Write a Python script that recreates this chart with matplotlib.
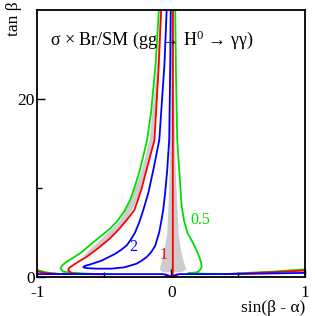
import matplotlib
matplotlib.use('Agg')
import matplotlib.pyplot as plt

plt.rcParams['font.family'] = ['Liberation Serif', 'DejaVu Serif']
plt.rcParams['mathtext.fontset'] = 'custom'
plt.rcParams['mathtext.rm'] = 'Liberation Serif'
plt.rcParams['mathtext.it'] = 'Liberation Serif:italic'

GREEN = '#00dd00'
RED = '#ff0000'
BLUE = '#0000ff'
GRAY = '#cccccc'

# ---- contour sigma x Br / SM = 0.5 (green) ----
g_left_x = [-0.092, -0.116, -0.150, -0.180, -0.234, -0.275, -0.307, -0.346, -0.396, -0.460, -0.532, -0.610, -0.681, -0.740, -0.781, -0.815, -0.825, -0.806, -0.731, -0.582, -0.45]
g_left_y = [30.0, 24.0, 18.5, 15.4, 12.0, 10.0, 8.65, 7.5, 6.4, 5.4, 4.53, 3.55, 2.66, 2.10, 1.72, 1.30, 0.97, 0.60, 0.48, 0.36, 0.33]
g_right_x = [0.030, 0.035, 0.045, 0.060, 0.078, 0.095, 0.120, 0.164, 0.195, 0.214, 0.224, 0.227, 0.215, 0.200, 0.170, 0.127, 0.25, 0.43, 0.60, 0.76, 1.0]
g_right_y = [30.0, 23.5, 15.4, 12.0, 8.0, 6.4, 5.0, 3.8, 2.8, 2.1, 1.6, 1.16, 0.80, 0.60, 0.50, 0.46, 0.38, 0.36, 0.50, 0.62, 0.88]
g_edge_x = [-1.0, -0.95, -0.90, -0.85]
g_edge_y = [0.80, 0.60, 0.45, 0.38]

# ---- contour = 1 (red) ----
r_left_x = [-0.075, -0.094, -0.125, -0.185, -0.220, -0.253, -0.276, -0.333, -0.395, -0.457, -0.545, -0.631, -0.690, -0.731, -0.760, -0.769, -0.743, -0.65, -0.50]
r_left_y = [30.0, 23.5, 15.4, 12.0, 10.0, 8.46, 7.5, 6.4, 5.3, 4.35, 3.25, 2.28, 1.75, 1.35, 1.05, 0.79, 0.42, 0.34, 0.32]
r_vert_x = [0.013, 0.012, 0.012]
r_vert_y = [30.0, 10.0, 0.30]
r_edge_x = [-1.0, -0.93, -0.85, -0.75]
r_edge_y = [0.64, 0.45, 0.37, 0.34]
r_right_x = [0.40, 0.55, 0.75, 1.0]
r_right_y = [0.34, 0.42, 0.55, 0.74]
r_dip_x = [-0.04, 0.0, 0.04]
r_dip_y = [0.30, 0.05, 0.30]

# ---- contour = 2 (blue) ----
b_loop_x = [-0.004, -0.007, -0.015, -0.030, -0.045, -0.060, -0.075, -0.090, -0.120, -0.150, -0.180, -0.220, -0.260, -0.350, -0.450, -0.550,
            -0.620, -0.650, -0.656, -0.640, -0.600, -0.520, -0.420, -0.370, -0.330, -0.300, -0.270, -0.240, -0.209, -0.170, -0.134, -0.089, -0.050, -0.034]
b_loop_y = [30.0, 24.0, 15.4, 12.0, 9.5, 7.5, 6.2, 5.0, 3.5, 2.8, 2.3, 1.85, 1.5, 1.1, 0.95, 0.95,
            1.0, 1.07, 1.15, 1.28, 1.45, 1.85, 2.6, 3.1, 3.6, 4.25, 5.0, 6.1, 7.5, 9.5, 12.0, 15.4, 24.0, 30.0]
b_base_x = [-1.0, -0.06, 0.0, 0.06, 0.40, 0.70, 1.0]
b_base_y = [0.34, 0.34, 0.05, 0.34, 0.34, 0.40, 0.48]

# ---- grey uncertainty bands ----
band1_y = [2.4, 3.5, 4.5, 6.4, 8.65, 12.0, 15.4, 24.0, 30.0]
band1_lo = [-0.66, -0.585, -0.51, -0.385, -0.305, -0.225, -0.165, -0.108, -0.086]
band1_hi = [-0.63, -0.535, -0.46, -0.34, -0.26, -0.19, -0.128, -0.092, -0.072]
band2_y = [0.6, 0.9, 1.57, 3.0, 4.9, 8.65, 12.0, 20.0, 30.0]
band2_lo = [-0.06, -0.09, -0.079, -0.055, -0.034, -0.022, -0.015, -0.008, -0.005]
band2_hi = [0.07, 0.11, 0.095, 0.07, 0.052, 0.040, 0.030, 0.020, 0.015]

fig = plt.figure(figsize=(3.15, 3.16), dpi=100)
ax = fig.add_axes([0.118, 0.123, 0.851, 0.845])

ax.fill_betweenx(band1_y, band1_lo, band1_hi, color=GRAY, lw=0)
ax.fill_betweenx(band2_y, band2_lo, band2_hi, color=GRAY, lw=0)

lw = 1.3
ax.plot(g_left_x, g_left_y, color=GREEN, lw=lw)
ax.plot(g_right_x, g_right_y, color=GREEN, lw=lw)
ax.plot(g_edge_x, g_edge_y, color=GREEN, lw=lw)
ax.plot(r_left_x, r_left_y, color=RED, lw=lw)
ax.plot(r_vert_x, r_vert_y, color=RED, lw=lw)
ax.plot(r_edge_x, r_edge_y, color=RED, lw=lw)
ax.plot(r_right_x, r_right_y, color=RED, lw=lw)
ax.plot(r_dip_x, r_dip_y, color=RED, lw=lw)
ax.plot(b_loop_x, b_loop_y, color=BLUE, lw=lw)
ax.plot(b_base_x, b_base_y, color=BLUE, lw=lw)

ax.text(0.22, 6.4, '0.5', color=GREEN, fontsize=11.5, ha='center', va='center')
ax.text(-0.28, 3.4, '2', color=BLUE, fontsize=11.5, ha='center', va='center')
ax.text(-0.06, 2.47, '1', color=RED, fontsize=11.5, ha='center', va='center')
ax.text(-0.905, 26.7, 'σ × Br/SM (gg → H$^0$ → γγ)', fontsize=13, ha='left', va='center')

ax.set_xlim(-1, 1)
ax.set_ylim(0, 30)
ax.set_xticks([-1, 0, 1])
ax.set_xticklabels(['-1', '0', '1'])
ax.set_xticks([-0.5, 0.5], minor=True)
ax.set_yticks([0, 20])
ax.set_yticklabels(['0', '20'])
ax.set_yticks([10], minor=True)
ax.tick_params(which='both', direction='in', labelsize=12.5, width=1)
ax.tick_params(axis='x', which='both', pad=5.5)
ax.tick_params(axis='y', which='both', pad=1.5)
ax.tick_params(which='major', length=6)
ax.tick_params(which='minor', length=3.5)
for s in ax.spines.values():
    s.set_linewidth(1.3)

fig.text(0.969, 0.024, 'sin(β - α)', fontsize=12.5, ha='right', va='center')
fig.text(0.045, 0.995, 'tan β', fontsize=12.5, rotation=90, ha='center', va='top')

fig.savefig('out.png', dpi=100)
